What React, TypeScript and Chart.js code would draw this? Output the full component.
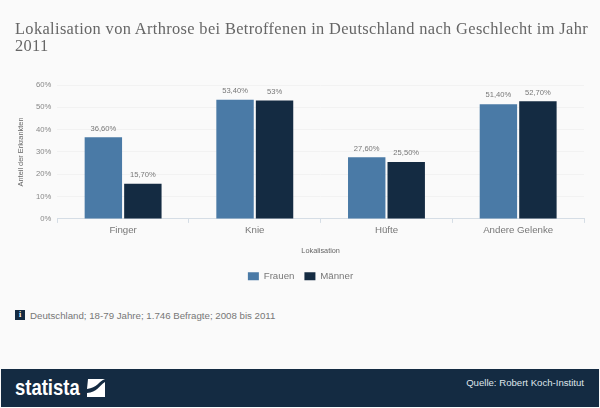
import React, { useEffect, useRef } from "react";
import { Chart, registerables } from "chart.js";

Chart.register(...registerables);

const categories = ["Finger", "Knie", "Hüfte", "Andere Gelenke"];
const frauen = [36.6, 53.4, 27.6, 51.4];
const maenner = [15.7, 53, 25.5, 52.7];
const frauenLabels = ["36,60%", "53,40%", "27,60%", "51,40%"];
const maennerLabels = ["15,70%", "53%", "25,50%", "52,70%"];
const yTicks = [0, 10, 20, 30, 40, 50, 60];

const FONT = "'Liberation Sans', Arial, sans-serif";

const valueLabels = {
  id: "valueLabels",
  afterDatasetsDraw(chart: any) {
    const { ctx } = chart;
    ctx.save();
    ctx.font = `7.6px ${FONT}`;
    ctx.fillStyle = "#777";
    ctx.textAlign = "center";
    ctx.textBaseline = "bottom";
    const sets = [frauenLabels, maennerLabels];
    sets.forEach((labels, d) => {
      chart.getDatasetMeta(d).data.forEach((bar: any, i: number) => {
        ctx.fillText(labels[i], bar.x, bar.y - 5);
      });
    });
    ctx.restore();
  },
};

export default function App() {
  const ref = useRef<HTMLCanvasElement>(null);
  useEffect(() => {
    document.body.style.margin = "0";
    const chart = new Chart(ref.current!, {
      type: "bar",
      data: {
        labels: categories,
        datasets: [
          { label: "Frauen", data: frauen, backgroundColor: "#4a7aa6", categoryPercentage: 0.6, barPercentage: 0.947 },
          { label: "Männer", data: maenner, backgroundColor: "#142b42", categoryPercentage: 0.6, barPercentage: 0.947 },
        ],
      },
      options: {
        responsive: false,
        animation: false,
        layout: { padding: { left: 17, right: 16, top: 85, bottom: 0 } },
        plugins: {
          title: { display: false },
          tooltip: { enabled: false },
          legend: {
            position: "bottom",
            labels: {
              boxWidth: 11,
              boxHeight: 8,
              padding: 10,
              color: "#777",
              font: { family: FONT, size: 9.7 },
            },
          },
        },
        scales: {
          x: {
            grid: { drawOnChartArea: false, drawTicks: true, tickLength: 4, color: "#d5dde5" },
            border: { color: "#d5dde5" },
            ticks: { color: "#777", font: { family: FONT, size: 9.7 }, padding: 2, maxRotation: 0 },
            title: { display: true, text: "Lokalisation", color: "#666", font: { family: FONT, size: 7.3 }, padding: { top: 8, bottom: 6 } },
          },
          y: {
            min: 0,
            max: 60,
            afterBuildTicks: (axis: any) => {
              axis.ticks = yTicks.map((value) => ({ value }));
            },
            grid: { color: "#f2f2f2", drawTicks: false },
            border: { display: false },
            ticks: { color: "#888", font: { family: FONT, size: 7.7 }, padding: 6, callback: (v: any) => `${v}%` },
            title: { display: true, text: "Anteil der Erkrankten", color: "#666", font: { family: FONT, size: 7.4 }, padding: { top: 0, bottom: 4 } },
          },
        },
      },
      plugins: [valueLabels],
    } as any);
    return () => chart.destroy();
  }, []);

  return (
    <div style={{ position: "relative", width: 600, height: 408, background: "#fafafa", overflow: "hidden" }}>
      <canvas ref={ref} width={600} height={291} style={{ position: "absolute", left: 0, top: 0 }} />
      <div style={{ position: "absolute", left: 15, top: 20, width: 578, fontFamily: "'Liberation Serif', Georgia, serif", fontSize: 16.4, lineHeight: "17px", color: "#666", letterSpacing: 0.35 }}>
        Lokalisation von Arthrose bei Betroffenen in Deutschland nach Geschlecht im Jahr 2011
      </div>
      <div style={{ position: "absolute", left: 15, top: 310, width: 10, height: 10, background: "#142b42", color: "#fff", fontFamily: "'Liberation Serif', serif", fontWeight: 700, fontSize: 8, lineHeight: "10px", textAlign: "center" }}>i</div>
      <div style={{ position: "absolute", left: 30, top: 309, fontFamily: FONT, fontSize: 9.7, lineHeight: "14px", color: "#777", whiteSpace: "nowrap" }}>
        Deutschland; 18-79 Jahre; 1.746 Befragte; 2008 bis 2011
      </div>
      <div style={{ position: "absolute", left: 1, right: 1, top: 369, height: 38, background: "#142b42" }} />
      <div style={{ position: "absolute", left: 15, top: 376, fontFamily: "'Liberation Sans', sans-serif", fontSize: 22, lineHeight: "24px", fontWeight: 700, color: "#fff", transform: "scaleX(0.84)", transformOrigin: "left top" }}>statista</div>
      <svg width="18" height="18" viewBox="0 0 18 18" style={{ position: "absolute", left: 87, top: 379 }}>
        <path d="M1 0H18C12 2 10 9 0 10Z M18 3V18H0V14C10 13 12 7 18 3Z" fill="#fff" />
      </svg>
      <div style={{ position: "absolute", right: 16, top: 376, fontFamily: FONT, fontSize: 9.6, lineHeight: "14px", color: "#dfe5ea", whiteSpace: "nowrap" }}>
        Quelle: Robert Koch-Institut
      </div>
    </div>
  );
}
